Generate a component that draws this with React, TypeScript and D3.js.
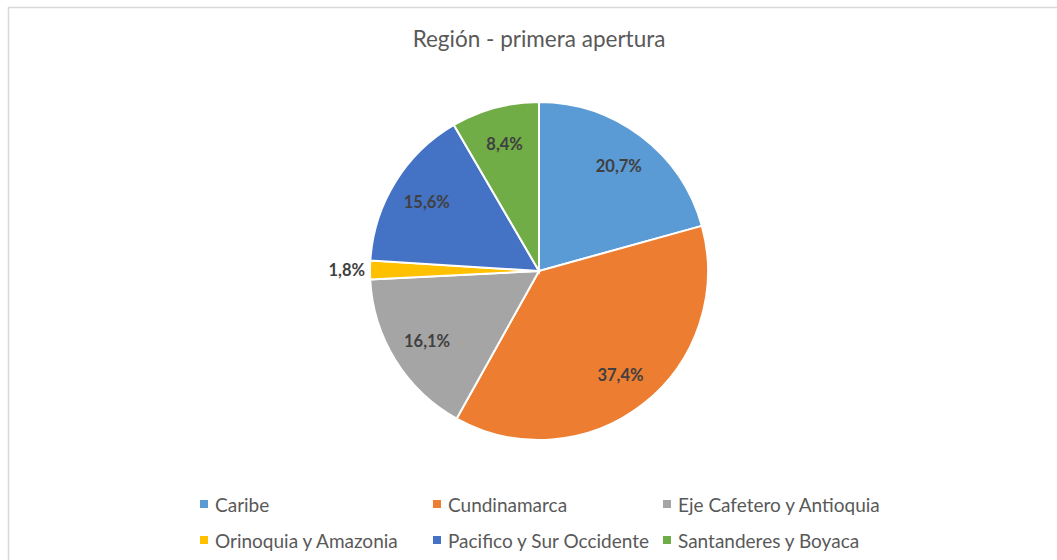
import React from "react";
import * as d3 from "d3";

const title = "Región - primera apertura";
const categories = [
  "Caribe",
  "Cundinamarca",
  "Eje Cafetero y Antioquia",
  "Orinoquia y Amazonia",
  "Pacifico y Sur Occidente",
  "Santanderes y Boyaca",
];
const values = [20.7, 37.4, 16.1, 1.8, 15.6, 8.4];
const labels = ["20,7%", "37,4%", "16,1%", "1,8%", "15,6%", "8,4%"];
const colors = ["#5B9BD5", "#ED7D31", "#A5A5A5", "#FFC000", "#4472C4", "#70AD47"];

const W = 1057;
const H = 560;
const cx = 539;
const cy = 271;
const R = 169;
const FONT = "Lato, 'Open Sans', sans-serif";

// legend layout: [column x of marker, row y]
const legendCols = [200, 433, 663];
const legendRows = [504, 540];

export default function App() {
  const pie = d3
    .pie<number>()
    .sort(null)
    .value((d) => d);
  const arcs = pie(values);
  const arc = d3.arc<d3.PieArcDatum<number>>().innerRadius(0).outerRadius(R);
  const labelArc = d3
    .arc<d3.PieArcDatum<number>>()
    .innerRadius(R * 0.78)
    .outerRadius(R * 0.78);

  return (
    <svg
      width={W}
      height={H}
      style={{ position: "absolute", left: 0, top: 0, display: "block", background: "#fff" }}
      fontFamily={FONT}
    >
      <rect x={8.5} y={7.5} width={W + 20} height={H + 20} fill="#fff" stroke="#d9d9d9" strokeWidth={1.5} />
      <text x={cx} y={38} textAnchor="middle" dominantBaseline="central" fontSize={22.5} fill="#595959">
        {title}
      </text>
      <g transform={`translate(${cx},${cy})`}>
        {arcs.map((a, i) => (
          <path key={i} d={arc(a) || ""} fill={colors[i]} stroke="#fff" strokeWidth={2} />
        ))}
        {arcs.map((a, i) => {
          const small = a.endAngle - a.startAngle < 0.2;
          if (small) {
            const mid = (a.startAngle + a.endAngle) / 2;
            const x = Math.sin(mid) * (R + 5);
            const y = -Math.cos(mid) * (R + 5);
            return (
              <text
                key={"l" + i}
                x={x}
                y={y}
                textAnchor="end"
                dominantBaseline="central"
                fontSize={16.5}
                fontWeight="bold"
                fill="#404040"
              >
                {labels[i]}
              </text>
            );
          }
          const [x, y] = labelArc.centroid(a);
          return (
            <text
              key={"l" + i}
              x={x}
              y={y}
              textAnchor="middle"
              dominantBaseline="central"
              fontSize={16.5}
              fontWeight="bold"
              fill="#404040"
            >
              {labels[i]}
            </text>
          );
        })}
      </g>
      <g>
        {categories.map((c, i) => {
          const col = i % 3;
          const row = Math.floor(i / 3);
          const x = legendCols[col];
          const y = legendRows[row];
          return (
            <g key={"lg" + i}>
              <rect x={x} y={y - 4} width={8} height={8} fill={colors[i]} />
              <text x={x + 15} y={y} dominantBaseline="central" fontSize={19} fill="#595959">
                {c}
              </text>
            </g>
          );
        })}
      </g>
    </svg>
  );
}
